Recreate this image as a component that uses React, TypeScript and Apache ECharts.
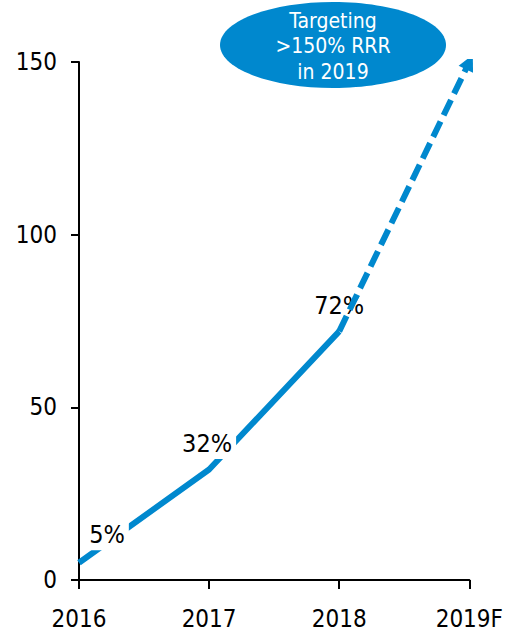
import React, { useEffect, useRef } from "react";
import * as echarts from "echarts";

const categories = ["2016", "2017", "2018", "2019F"];
const actualValues = [5, 32, 72, null];
const actualLabels = ["5%", "32%", "72%", ""];
const targetFrom = 72;
const targetTo = 150;
const yTicks = { min: 0, max: 150, interval: 50 };
const calloutLines = ["Targeting", ">150% RRR", "in 2019"];

const BLUE = "#0088CE";
const FONT = "'DejaVu Sans Condensed', 'DejaVu Sans', sans-serif";

export default function App() {
  const ref = useRef<HTMLDivElement>(null);
  useEffect(() => {
    document.body.style.margin = "0";
    const chart = echarts.init(ref.current!, null, { renderer: "svg" });
    const labelPositions: Record<number, [number, number]> = {
      0: [29, -27],
      1: [-1, -25],
      2: [1, -25],
    };
    chart.setOption({
      animation: false,
      grid: { left: 79, right: 36, top: 62, bottom: 53, containLabel: false },
      xAxis: {
        type: "category",
        data: categories,
        boundaryGap: false,
        axisLine: { lineStyle: { color: "#000", width: 2 } },
        axisTick: { show: true, length: 9, lineStyle: { color: "#000", width: 2 }, alignWithLabel: true },
        axisLabel: { color: "#000", fontSize: 24, fontFamily: FONT, margin: 27 },
        splitLine: { show: false },
      },
      yAxis: {
        type: "value",
        min: yTicks.min,
        max: yTicks.max,
        interval: yTicks.interval,
        axisLine: { show: true, lineStyle: { color: "#000", width: 2 } },
        axisTick: { show: true, length: 8, lineStyle: { color: "#000", width: 2 } },
        axisLabel: { color: "#000", fontSize: 24, fontFamily: FONT, margin: 22 },
        splitLine: { show: false },
      },
      graphic: [
        {
          type: "ellipse",
          shape: { cx: 333, cy: 45, rx: 113, ry: 43 },
          style: { fill: BLUE },
          z: 10,
        },
        {
          type: "text",
          x: 333,
          y: 46,
          z: 11,
          style: {
            text: calloutLines.join("\n"),
            fill: "#fff",
            font: `21px ${FONT}`,
            lineHeight: 25.5,
            align: "center",
            verticalAlign: "middle",
          },
        },
      ],
      series: [
        {
          type: "line",
          z: 2,
          data: actualValues.map((v, i) => ({
            value: v,
            label: {
              show: v !== null,
              formatter: actualLabels[i],
              position: labelPositions[i] || "top",
            },
          })),
          showSymbol: true,
          symbol: "circle",
          symbolSize: 2,
          itemStyle: { color: "rgba(0,0,0,0)", borderWidth: 0 },
          lineStyle: { color: BLUE, width: 6 },
          label: {
            show: true,
            color: "#000",
            fontSize: 25,
            fontFamily: FONT,
            align: "center",
            verticalAlign: "middle",
            backgroundColor: "#fff",
            padding: [3, 4],
          },
          labelLayout: { hideOverlap: false },
        },
        {
          type: "lines",
          coordinateSystem: "cartesian2d",
          z: 5,
          symbol: ["none", "triangle"],
          symbolSize: [17, 16],
          symbolOffset: [0, 5],
          lineStyle: { color: BLUE, width: 6, type: [17, 7], opacity: 1 },
          data: [
            {
              coords: [
                [categories[2], targetFrom],
                [categories[3], targetTo],
              ],
            },
          ],
        },
      ],
    });
    return () => chart.dispose();
  }, []);
  return <div ref={ref} style={{ width: 506, height: 633 }} />;
}
